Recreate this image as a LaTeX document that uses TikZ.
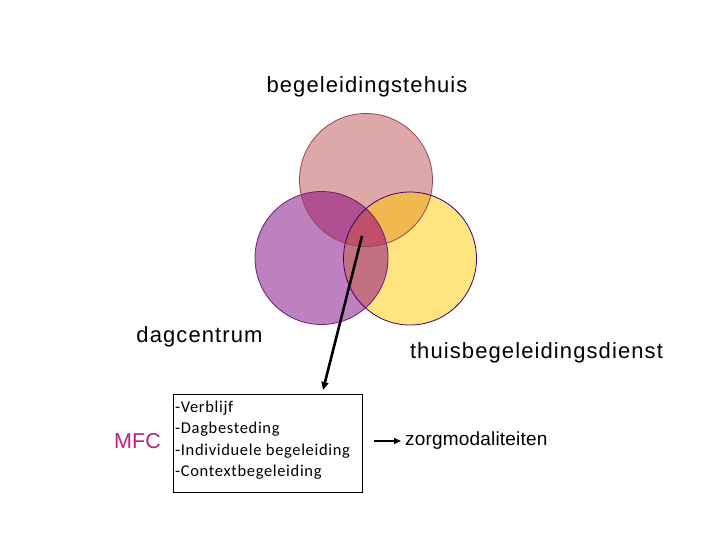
\documentclass[tikz,border=0pt]{standalone}
\usepackage{fontspec}
\setmainfont{Liberation Sans}
\newfontfamily\calib{Carlito}[LetterSpace=4]
\newfontfamily\arialsp{Liberation Sans}[LetterSpace=5]
\newfontfamily\arialmfc{Liberation Sans}[LetterSpace=1]
\newfontfamily\arialzorg{Liberation Sans}[LetterSpace=1]
\usetikzlibrary{arrows.meta}
\definecolor{ctop}{RGB}{223,168,168}
\definecolor{cleft}{RGB}{191,128,191}
\definecolor{cright}{RGB}{255,228,128}
\definecolor{ctl}{RGB}{176,80,144}
\definecolor{ctr}{RGB}{240,185,80}
\definecolor{clr}{RGB}{195,112,128}
\definecolor{call}{RGB}{192,80,106}
\definecolor{etop}{RGB}{150,70,90}
\definecolor{eleft}{RGB}{110,30,110}
\definecolor{eright}{RGB}{60,0,110}
\definecolor{mfc}{RGB}{190,30,130}
\tikzset{
  lbl/.style={font=\fontsize{22}{26}\selectfont\arialsp, inner sep=0pt},
  ring/.style={line width=0.8pt},
}
\begin{document}
\begin{tikzpicture}[x=1pt,y=-1pt]
\useasboundingbox[fill=white] (0,0) rectangle (720,540);
\def\R{66.5}
\coordinate (T) at (366,180);
\coordinate (L) at (321.5,258);
\coordinate (Rc) at (410,258.5);
% fills
\fill[ctop] (T) circle (\R);
\fill[cleft] (L) circle (\R);
\fill[cright] (Rc) circle (\R);
\begin{scope}
  \clip (T) circle (\R);
  \fill[ctl] (L) circle (\R);
  \fill[ctr] (Rc) circle (\R);
\end{scope}
\begin{scope}
  \clip (L) circle (\R);
  \fill[clr] (Rc) circle (\R);
  \clip (Rc) circle (\R);
  \fill[call] (T) circle (\R);
\end{scope}
% edges
\draw[ring, etop] (T) circle (\R);
\draw[ring, eleft] (L) circle (\R);
\draw[ring, eright] (Rc) circle (\R);
% labels
\node[lbl] (hdr) at (367,87) {begeleidingstehuis};
\node[lbl] (dag) at (199.5,337) {dagcentrum};
\node[lbl] (thuis) at (536.5,353) {thuisbegeleidingsdienst};
% box
\node[draw, line width=0.8pt, minimum width=189, minimum height=98, inner sep=0pt, anchor=north west] (box) at (173,394) {};
\node[anchor=north west, inner sep=0pt, align=left, font=\fontsize{16.5}{21.5}\selectfont\calib] (items) at (175,400.5)
  {-Verblijf\\-Dagbesteding\\-Individuele begeleiding\\-Contextbegeleiding};
\node[font=\fontsize{21.5}{24}\selectfont\arialmfc, text=mfc, inner sep=0pt] (mfc) at (137.5,441) {MFC};
\node[font=\fontsize{19}{22}\selectfont\arialzorg, inner sep=0pt, anchor=west] (zorg) at (405,441) {zorgmodaliteiten};
% arrows
\coordinate (ptr) at (362,236);
\coordinate (tip) at (323,390);
\draw[line width=2.6pt, -{Triangle[length=8pt,width=7pt]}] (ptr) -- (tip);
\draw[line width=1.3pt, -{Triangle[length=7pt,width=6pt]}, shorten <=11pt, shorten >=4pt] (box.east |- zorg.west) -- (zorg.west);
\end{tikzpicture}
\end{document}
